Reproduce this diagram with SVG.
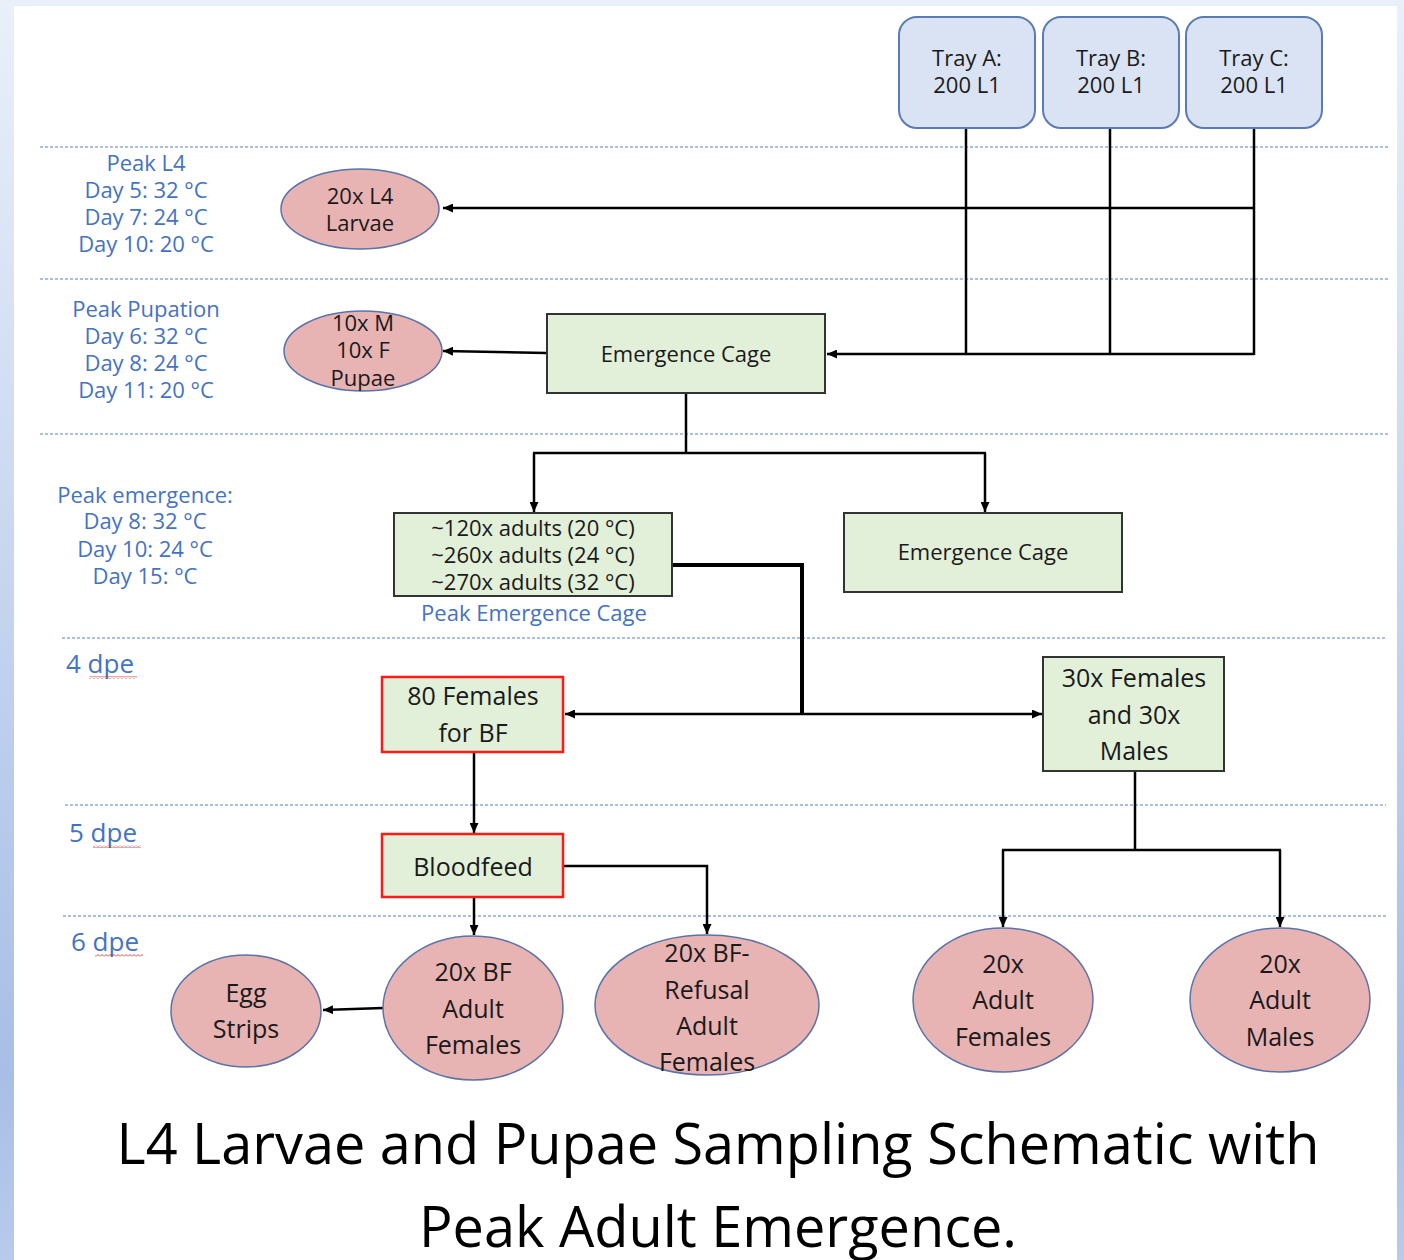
<svg xmlns="http://www.w3.org/2000/svg" width="1404" height="1260" viewBox="0 0 1404 1260">
<defs>
<linearGradient id="bg" x1="0" y1="0" x2="0" y2="1">
<stop offset="0" stop-color="#eaf0f9"/>
<stop offset="0.85" stop-color="#a9bee6"/>
<stop offset="1" stop-color="#b9caeb"/>
</linearGradient>
<marker id="ah" viewBox="0 0 10 9" refX="10" refY="4.5" markerWidth="10" markerHeight="9" markerUnits="userSpaceOnUse" orient="auto">
<path d="M0,0 L10,4.5 L0,9 z" fill="#000"/>
</marker>
<pattern id="squig" x="0" y="0" width="4" height="3" patternUnits="userSpaceOnUse">
<path d="M0,2.5 L2,0.5 L4,2.5" fill="none" stroke="#e03030" stroke-width="0.9"/>
</pattern>
<style>
.t{font-family:"Open Sans","Liberation Sans",sans-serif;fill:#1a1a1a;text-anchor:middle}
.s22{font-size:22px}
.s25{font-size:25px}
.blue{font-family:"Open Sans","Liberation Sans",sans-serif;fill:#4472c4;text-anchor:middle;font-size:22px}
.dpe{font-family:"Open Sans","Liberation Sans",sans-serif;fill:#4472c4;font-size:26px}
.tray{fill:#dae3f3;stroke:#5b7bb5;stroke-width:2}
.box{fill:#e2efd9;stroke:#333;stroke-width:2}
.red{fill:#e2efd9;stroke:#ff1a1a;stroke-width:2.5}
.ell{fill:#e8b3b3;stroke:#5a73a8;stroke-width:1.5}
.grid{stroke:#8fa9dc;stroke-width:1.5;stroke-dasharray:3 2;fill:none}
.c{fill:none;stroke:#000;stroke-width:2.5}
.ca{fill:none;stroke:#000;stroke-width:2.5;marker-end:url(#ah)}
.thick{fill:none;stroke:#000;stroke-width:4}
.title{font-family:"Open Sans","Liberation Sans",sans-serif;font-size:57px;fill:#000;text-anchor:middle}
</style>
</defs>
<rect x="0" y="0" width="1404" height="1260" fill="url(#bg)"/>
<rect x="14" y="6" width="1383" height="1254" fill="#fff"/>

<g id="gridlines">
<line class="grid" x1="40" y1="147" x2="1390" y2="147"/>
<line class="grid" x1="40" y1="279" x2="1390" y2="279"/>
<line class="grid" x1="40" y1="434" x2="1390" y2="434"/>
<line class="grid" x1="62" y1="638" x2="1386" y2="638"/>
<line class="grid" x1="65" y1="805" x2="1386" y2="805"/>
<line class="grid" x1="63" y1="916" x2="1386" y2="916"/>
</g>

<g id="labels">
<text class="blue" x="146" y="171">Peak L4</text>
<text class="blue" x="146" y="198">Day 5: 32 °C</text>
<text class="blue" x="146" y="225">Day 7: 24 °C</text>
<text class="blue" x="146" y="252">Day 10: 20 °C</text>
<text class="blue" x="146" y="317">Peak Pupation</text>
<text class="blue" x="146" y="344">Day 6: 32 °C</text>
<text class="blue" x="146" y="371">Day 8: 24 °C</text>
<text class="blue" x="146" y="398">Day 11: 20 °C</text>
<text class="blue" x="145" y="503">Peak emergence:</text>
<text class="blue" x="145" y="529">Day 8: 32 °C</text>
<text class="blue" x="145" y="557">Day 10: 24 °C</text>
<text class="blue" x="145" y="584">Day 15: °C</text>
<text class="dpe" x="66" y="673">4 dpe</text>
<text class="dpe" x="69" y="842">5 dpe</text>
<text class="dpe" x="71" y="951">6 dpe</text>
<rect x="89" y="676" width="48" height="3" fill="url(#squig)"/>
<rect x="93" y="845" width="48" height="3" fill="url(#squig)"/>
<rect x="95" y="954" width="48" height="3" fill="url(#squig)"/>
</g>

<g id="connectors">
<line class="c" x1="966" y1="128" x2="966" y2="354"/>
<line class="c" x1="1110" y1="128" x2="1110" y2="354"/>
<line class="c" x1="1254" y1="128" x2="1254" y2="355"/>
<path class="ca" d="M1254,354 H827"/>
<path class="ca" d="M1254,208 H443"/>
<path class="ca" d="M547,353 L443,351"/>
<path class="c" d="M686,393 V453"/>
<path class="c" d="M533,453 H986"/>
<path class="ca" d="M534,453 V512"/>
<path class="ca" d="M985,453 V512"/>
<path class="thick" d="M672,565 H802 V714"/>
<path class="ca" d="M802,714 H565"/>
<path class="ca" d="M802,714 H1042"/>
<path class="ca" d="M474,752 V833"/>
<path class="ca" d="M474,897 V935"/>
<path class="ca" d="M563,866 H707 V934"/>
<path class="c" d="M1135,771 V850"/>
<path class="c" d="M1002,850 H1281"/>
<path class="ca" d="M1003,850 V927"/>
<path class="ca" d="M1280,850 V927"/>
<path class="ca" d="M383,1008 L323,1010"/>
</g>

<g id="trayA">
<rect class="tray" x="899" y="17" width="136" height="111" rx="18"/>
<text class="t s22" x="967" y="66">Tray A:</text>
<text class="t s22" x="967" y="93">200 L1</text>
</g>
<g id="trayB">
<rect class="tray" x="1043" y="17" width="136" height="111" rx="18"/>
<text class="t s22" x="1111" y="66">Tray B:</text>
<text class="t s22" x="1111" y="93">200 L1</text>
</g>
<g id="trayC">
<rect class="tray" x="1186" y="17" width="136" height="111" rx="18"/>
<text class="t s22" x="1254" y="66">Tray C:</text>
<text class="t s22" x="1254" y="93">200 L1</text>
</g>

<g id="larvae">
<ellipse class="ell" cx="360" cy="209" rx="79" ry="40"/>
<text class="t s22" x="360" y="204">20x L4</text>
<text class="t s22" x="360" y="231">Larvae</text>
</g>
<g id="pupae">
<ellipse class="ell" cx="363" cy="351" rx="79" ry="40"/>
<text class="t s22" x="363" y="331">10x M</text>
<text class="t s22" x="363" y="358">10x F</text>
<text class="t s22" x="363" y="386">Pupae</text>
</g>
<g id="emergenceCage1">
<rect class="box" x="547" y="314" width="278" height="79"/>
<text class="t s22" x="686" y="362">Emergence Cage</text>
</g>
<g id="peakCage">
<rect class="box" x="394" y="513" width="278" height="83"/>
<text class="t s22" x="533" y="536">~120x adults (20 °C)</text>
<text class="t s22" x="533" y="563">~260x adults (24 °C)</text>
<text class="t s22" x="533" y="590">~270x adults (32 °C)</text>
<text class="blue" x="534" y="621">Peak Emergence Cage</text>
</g>
<g id="emergenceCage2">
<rect class="box" x="844" y="513" width="278" height="79"/>
<text class="t s22" x="983" y="560">Emergence Cage</text>
</g>
<g id="females80">
<rect class="red" x="382" y="677" width="181" height="75"/>
<text class="t s25" x="473" y="705">80 Females</text>
<text class="t s25" x="473" y="742">for BF</text>
</g>
<g id="fm30">
<rect class="box" x="1043" y="657" width="181" height="114"/>
<text class="t s25" x="1134" y="687">30x Females</text>
<text class="t s25" x="1134" y="724">and 30x</text>
<text class="t s25" x="1134" y="760">Males</text>
</g>
<g id="bloodfeed">
<rect class="red" x="382" y="834" width="181" height="63"/>
<text class="t s25" x="473" y="876">Bloodfeed</text>
</g>
<g id="eggStrips">
<ellipse class="ell" cx="246" cy="1011" rx="75" ry="56"/>
<text class="t s25" x="246" y="1002">Egg</text>
<text class="t s25" x="246" y="1038">Strips</text>
</g>
<g id="bfFemales">
<ellipse class="ell" cx="473" cy="1008" rx="90" ry="72"/>
<text class="t s25" x="473" y="981">20x BF</text>
<text class="t s25" x="473" y="1018">Adult</text>
<text class="t s25" x="473" y="1054">Females</text>
</g>
<g id="refusalFemales">
<ellipse class="ell" cx="707" cy="1005" rx="112" ry="70"/>
<text class="t s25" x="707" y="962">20x BF-</text>
<text class="t s25" x="707" y="999">Refusal</text>
<text class="t s25" x="707" y="1035">Adult</text>
<text class="t s25" x="707" y="1071">Females</text>
</g>
<g id="adultFemales">
<ellipse class="ell" cx="1003" cy="1000" rx="90" ry="72"/>
<text class="t s25" x="1003" y="973">20x</text>
<text class="t s25" x="1003" y="1009">Adult</text>
<text class="t s25" x="1003" y="1046">Females</text>
</g>
<g id="adultMales">
<ellipse class="ell" cx="1280" cy="1000" rx="90" ry="72"/>
<text class="t s25" x="1280" y="973">20x</text>
<text class="t s25" x="1280" y="1009">Adult</text>
<text class="t s25" x="1280" y="1046">Males</text>
</g>

<g id="title">
<text class="title" x="718" y="1164" textLength="1203" lengthAdjust="spacingAndGlyphs">L4 Larvae and Pupae Sampling Schematic with</text>
<text class="title" x="718" y="1247" textLength="598" lengthAdjust="spacingAndGlyphs">Peak Adult Emergence.</text>
</g>
</svg>
